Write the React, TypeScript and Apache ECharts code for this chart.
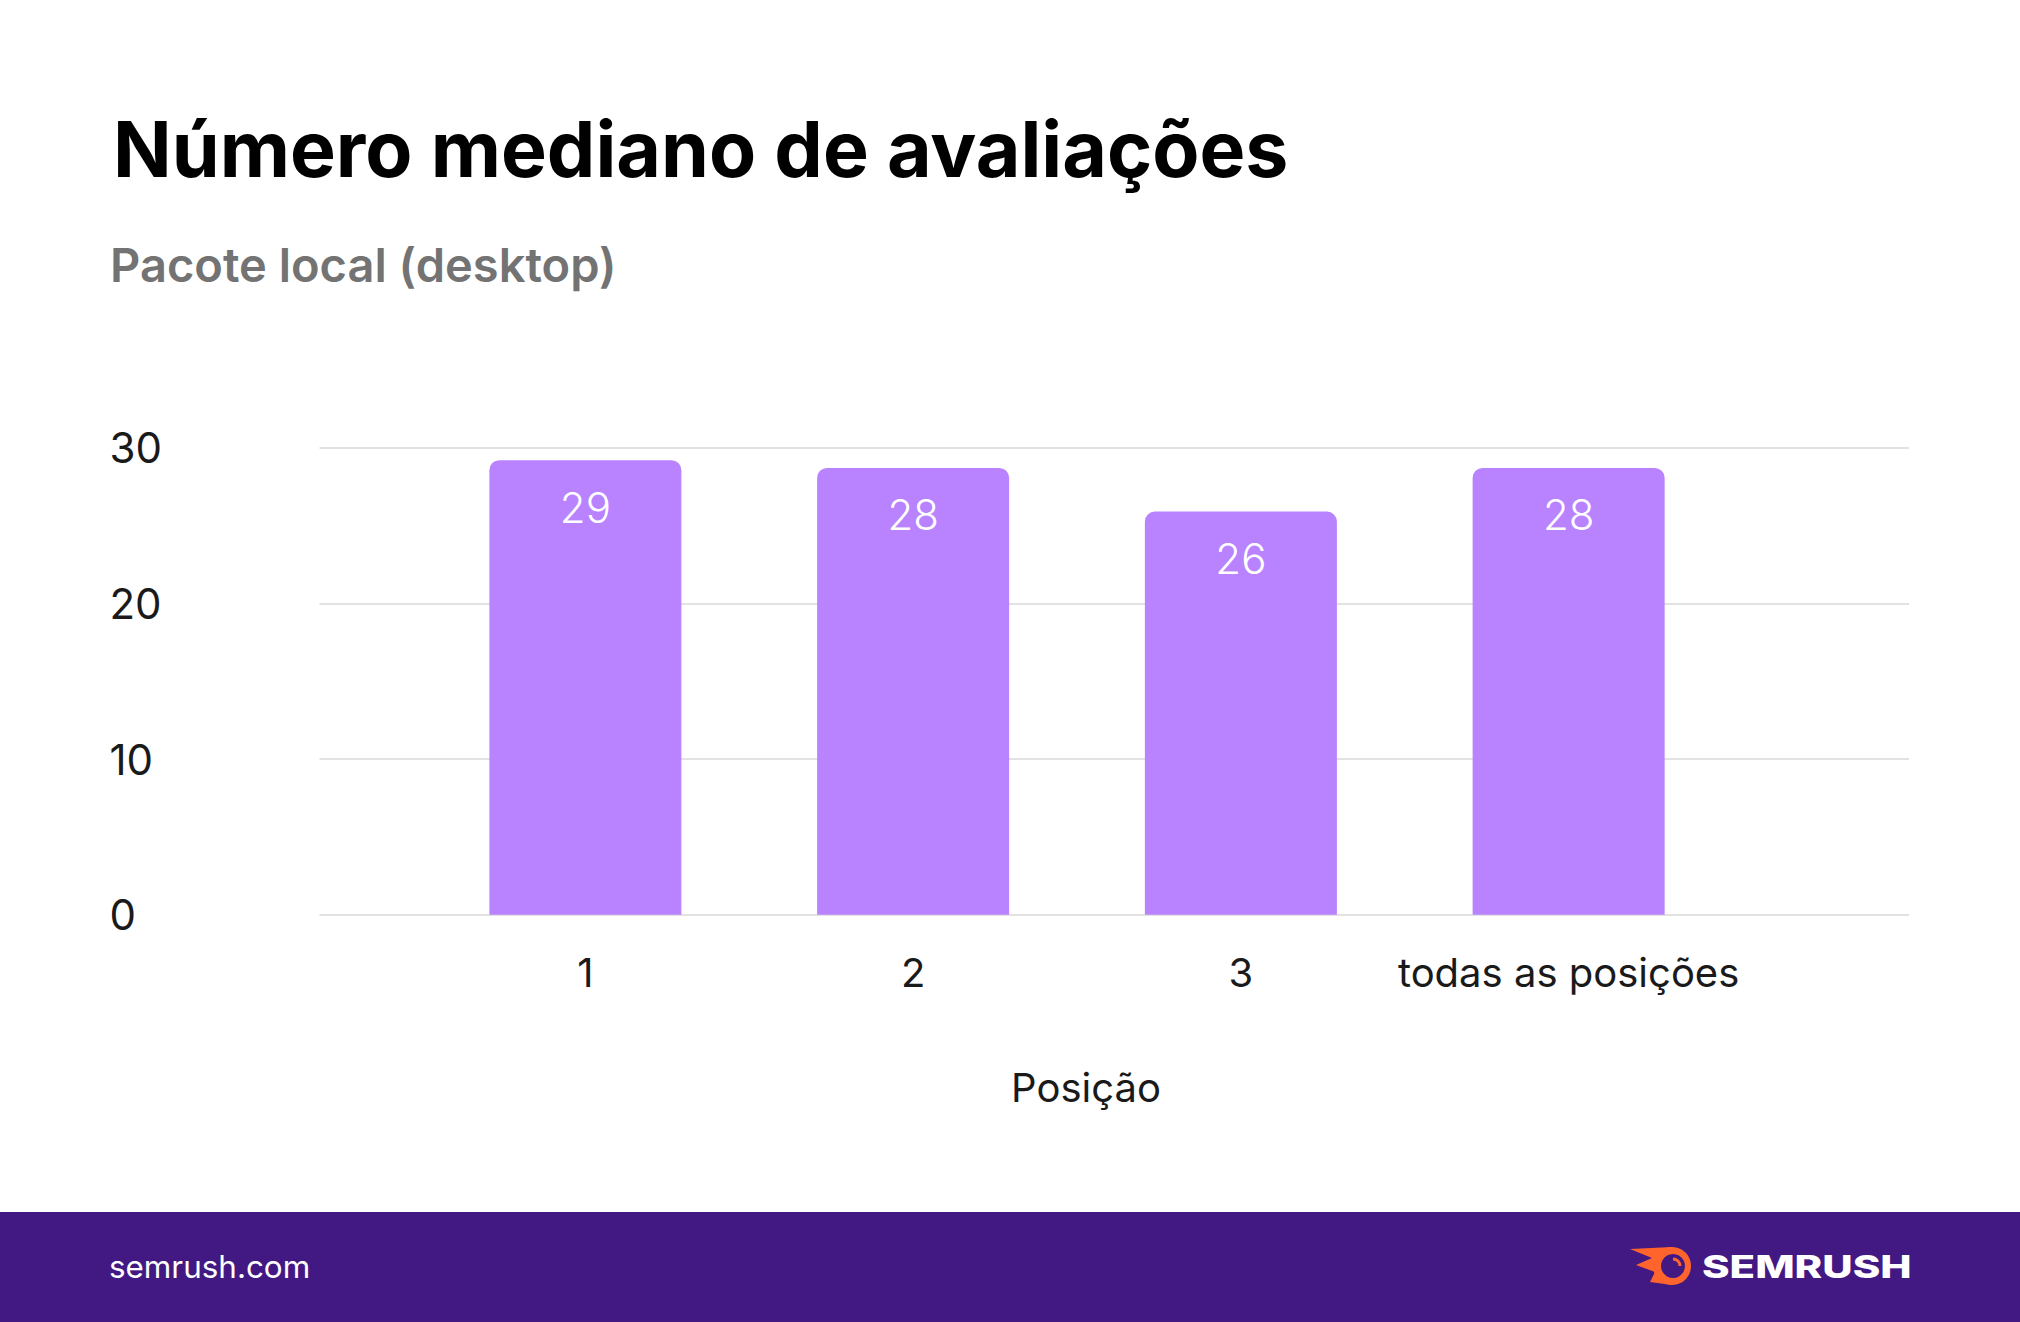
import React, { useEffect, useRef } from "react";
import * as echarts from "echarts";

const categories = ["1", "2", "3", "todas as posições"];
const values = [29.2, 28.7, 25.9, 28.7];
const valueLabels = ["29", "28", "26", "28"];
const yTicks = [0, 10, 20, 30];

const titleText = "Número mediano de avaliações";
const subtitleText = "Pacote local (desktop)";
const axisName = "Posição";
const footerText = "semrush.com";
const logoText = "SEMRUSH";

const FONT = "Inter, 'Noto Sans', sans-serif";

export default function App() {
  const ref = useRef<HTMLDivElement>(null);
  useEffect(() => {
    if (!ref.current) return;
    const chart = echarts.init(ref.current, null, { renderer: "svg" });
    const W = 2020;
    const H = 1322;
    const top = 447.7;
    const bottom = H - 914.7;
    chart.setOption({
      animation: false,
      backgroundColor: "#ffffff",
      grid: [
        { left: 421.5, right: W - 1732.5, top, bottom },
        { left: 319.5, right: W - 1909, top, bottom },
      ],
      xAxis: [
        {
          type: "category",
          gridIndex: 0,
          data: categories,
          axisLine: { show: false },
          axisTick: { show: false },
          axisLabel: { interval: 0, fontFamily: FONT, fontSize: 40, color: "#1a1a1a", margin: 38 },
          name: axisName,
          nameLocation: "middle",
          nameGap: 153,
          nameTextStyle: { fontFamily: FONT, fontSize: 40, color: "#1a1a1a", padding: [0, 0, 0, 18] },
        },
        { type: "category", gridIndex: 1, show: false, data: categories },
      ],
      yAxis: [
        { type: "value", gridIndex: 0, min: 0, max: 30, interval: 10, show: false },
        {
          type: "value",
          gridIndex: 1,
          min: 0,
          max: 30,
          interval: 10,
          axisLine: { show: false },
          axisTick: { show: false },
          splitLine: { lineStyle: { color: "#e2e2e2", width: 2 } },
          axisLabel: {
            fontFamily: FONT,
            fontSize: 42,
            color: "#1a1a1a",
            align: "left",
            margin: 210,
            verticalAlign: "middle",
            padding: [0, 0, 12, 0],
            formatter: (v: number) => (yTicks.includes(v) ? String(v) : ""),
          },
        },
      ],
      series: [
        {
          type: "bar",
          xAxisIndex: 0,
          yAxisIndex: 0,
          data: values,
          barWidth: 192,
          itemStyle: { color: "#b982ff", borderRadius: [10, 10, 0, 0] },
          label: {
            show: true,
            position: "insideTop",
            distance: 26,
            fontFamily: FONT,
            fontSize: 42,
            fontWeight: 300,
            color: "#ffffff",
            formatter: (p: any) => valueLabels[p.dataIndex],
          },
        },
      ],
      graphic: [
        {
          type: "text",
          left: 113,
          top: 110,
          style: { text: titleText, fontFamily: FONT, fontSize: 77, fontWeight: 700, fill: "#000000" },
        },
        {
          type: "text",
          left: 110,
          top: 241,
          style: { text: subtitleText, fontFamily: FONT, fontSize: 47, fontWeight: 600, fill: "#737373" },
        },
        { type: "rect", shape: { x: 0, y: 1212, width: W, height: 110 }, style: { fill: "#421983" } },
        {
          type: "text",
          left: 109,
          top: 1251,
          style: { text: footerText, fontFamily: FONT, fontSize: 31.4, fill: "#ffffff" },
        },
        {
          type: "polygon",
          shape: {
            points: [
              [1672, 1247],
              [1630, 1249],
              [1652, 1258],
              [1636, 1265],
              [1655, 1272],
              [1650, 1282],
              [1672, 1285],
            ],
          },
          style: { fill: "#ff642d" },
        },
        { type: "circle", shape: { cx: 1672, cy: 1266, r: 19 }, style: { fill: "#ff642d" } },
        { type: "circle", shape: { cx: 1673, cy: 1266, r: 12 }, style: { fill: "#421983" } },
        {
          type: "arc",
          shape: { cx: 1673, cy: 1266, r: 7, startAngle: -Math.PI / 2, endAngle: 0 },
          style: { stroke: "#ff642d", lineWidth: 3, fill: "none" },
        },
        {
          type: "text",
          x: 1702,
          y: 1267,
          scaleX: 1.35,
          style: {
            text: logoText,
            fontFamily: "Inter, sans-serif",
            fontSize: 31,
            fontWeight: 800,
            fill: "#ffffff",
            verticalAlign: "middle",
          },
        },
      ],
    });
    return () => chart.dispose();
  }, []);
  return <div ref={ref} style={{ position: "absolute", left: 0, top: 0, width: 2020, height: 1322 }} />;
}
